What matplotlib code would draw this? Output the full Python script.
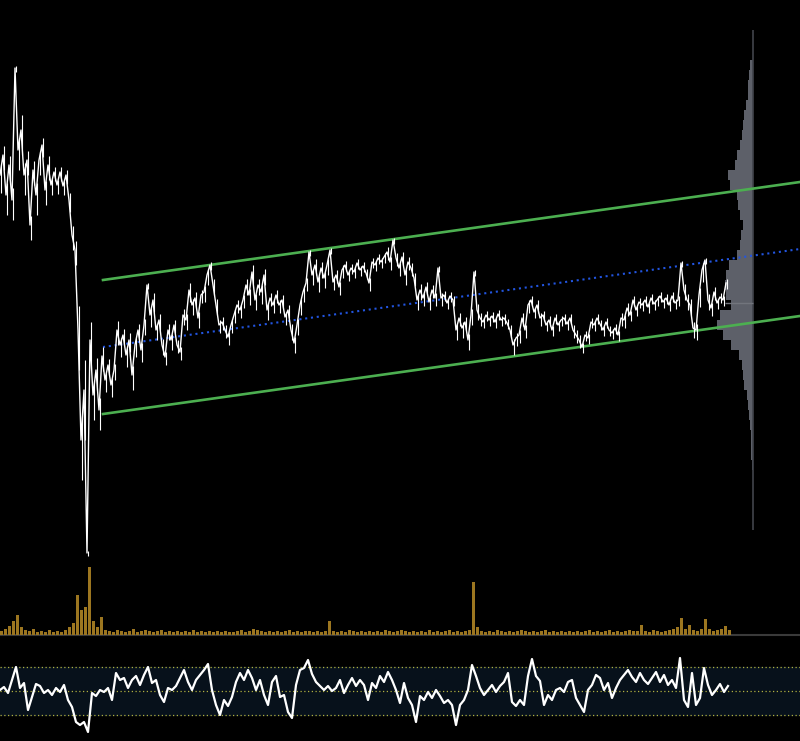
import numpy as np
import matplotlib
matplotlib.use("Agg")
import matplotlib.pyplot as plt

# ---------------- data ----------------
price_step = 3
price = [
    385, 405, 365, 395, 360, 492, 410, 430, 385, 400,
    335, 390, 365, 400, 415, 370, 395, 375, 388, 375,
    388, 374, 385, 360, 325, 310, 230, 120, 170, 7,
    220, 165, 190, 150, 204, 180, 195, 175, 190, 230,
    215, 225, 205, 220, 185, 215, 230, 210, 235, 275,
    245, 260, 230, 240, 215, 203, 230, 220, 235, 215,
    208, 245, 240, 270, 255, 262, 242, 265, 268, 285,
    295, 275, 255, 235, 238, 230, 223, 235, 245, 255,
    250, 260, 275, 265, 288, 260, 275, 268, 285, 250,
    262, 255, 265, 255, 260, 243, 250, 230, 217, 235,
    255, 268, 277, 308, 285, 295, 278, 292, 282, 295,
    310, 278, 285, 273, 290, 295, 285, 292, 288, 297,
    290, 294, 287, 277, 298, 295, 302, 298, 303, 308,
    298, 320, 302, 292, 303, 285, 298, 292, 282, 260,
    270, 262, 273, 258, 270, 262, 292, 262, 265, 257,
    264, 260, 230, 242, 232, 238, 220, 245, 288, 250,
    242, 238, 245, 240, 244, 238, 246, 240, 242, 237,
    230, 215, 222, 225, 242, 230, 255, 260, 248, 255,
    242, 245, 235, 240, 230, 242, 235, 240, 242, 236,
    242, 230, 225, 220, 213, 225, 222, 238, 235, 242,
    236, 230, 238, 230, 227, 232, 225, 242, 240, 252,
    245, 260, 250, 258, 255, 260, 253, 262, 256, 260,
    264, 258, 262, 255, 264, 257, 260, 297, 270, 260,
    255, 232, 230, 265, 290, 300, 260, 252, 268, 257,
    263, 260, 277,
]
# half of the intra-bar high-low range around each price point
price_range = [
    18, 15, 20, 15, 20, 4, 20, 25, 20, 15,
    15, 15, 20, 15, 12, 15, 15, 10, 9, 9,
    9, 9, 9, 12, 15, 15, 40, 40, 50, 3,
    30, 25, 20, 20, 15, 12, 10, 12, 10, 15,
    12, 10, 12, 12, 15, 12, 10, 12, 10, 4,
    12, 12, 10, 10, 10, 8, 10, 10, 8, 8,
    8, 10, 10, 12, 10, 10, 10, 8, 10, 10,
    5, 10, 10, 8, 8, 8, 8, 8, 8, 8,
    8, 8, 10, 10, 12, 10, 10, 12, 10, 10,
    8, 8, 8, 8, 8, 8, 8, 10, 10, 10,
    10, 10, 8, 4, 10, 10, 10, 10, 10, 10,
    4, 8, 8, 8, 8, 6, 6, 6, 6, 6,
    6, 6, 6, 8, 6, 6, 6, 6, 6, 8,
    8, 4, 8, 8, 8, 10, 8, 8, 8, 10,
    10, 8, 8, 8, 8, 8, 4, 8, 6, 6,
    6, 6, 10, 8, 10, 8, 10, 10, 4, 10,
    8, 6, 6, 6, 6, 6, 6, 6, 6, 6,
    8, 10, 8, 8, 8, 8, 8, 6, 6, 8,
    8, 6, 6, 6, 6, 6, 6, 6, 6, 6,
    6, 8, 8, 8, 6, 6, 6, 6, 6, 6,
    6, 6, 6, 6, 6, 6, 6, 8, 8, 8,
    6, 6, 6, 6, 6, 6, 6, 6, 6, 6,
    6, 6, 6, 6, 6, 6, 6, 4, 10, 10,
    10, 10, 10, 12, 12, 4, 10, 8, 8, 6,
    6, 6, 6,
]

# regression channel (start bar, end bar, mid value at start/end, half width)
channel_x = [103, 800]
channel_mid = [213, 311]
channel_half = 67

# volume per bar (step 4)
vol_step = 4
volume = [
    4, 6, 9, 14, 20, 8, 5, 4, 6, 3,
    4, 3, 5, 3, 4, 3, 5, 8, 12, 40,
    25, 28, 68, 14, 8, 18, 5, 4, 3, 5,
    4, 3, 4, 6, 3, 4, 5, 4, 3, 4,
    5, 3, 4, 3, 4, 3, 4, 3, 5, 3,
    4, 3, 4, 3, 4, 3, 4, 3, 3, 4,
    5, 3, 4, 6, 5, 4, 3, 4, 3, 4,
    3, 4, 5, 3, 4, 3, 4, 4, 3, 4,
    3, 4, 14, 4, 3, 4, 3, 5, 4, 3,
    4, 3, 4, 3, 4, 3, 5, 4, 3, 4,
    5, 4, 3, 4, 3, 4, 3, 5, 3, 4,
    3, 4, 5, 3, 4, 3, 4, 5, 53, 8,
    4, 3, 4, 3, 5, 4, 3, 4, 3, 4,
    5, 4, 3, 4, 3, 4, 5, 3, 4, 3,
    4, 3, 4, 3, 4, 3, 4, 5, 3, 4,
    3, 4, 5, 3, 4, 3, 4, 5, 4, 4,
    10, 4, 3, 5, 4, 3, 4, 5, 6, 8,
    17, 6, 10, 5, 4, 6, 16, 6, 4, 5,
    6, 9, 5,
]

# volume profile (price level bins of 10, widths)
profile_levels = list(range(95, 500, 10))
profile_vol = [
    1.5, 2, 2, 2.5, 3, 4, 5, 6, 9, 10,
    11, 14, 22, 30, 36, 33, 22, 27, 28, 27,
    24, 16, 13, 12, 10, 13, 15, 16, 23, 25,
    18, 16, 13, 11, 10, 9, 7, 5, 5, 4,
    3,
]
poc_level = 257
profile_range = [30, 530]
profile_anchor = 753

# oscillator (step 4)
osc_step = 4
osc = [
    1, 4, -2, 11, 24, 3, 8, -19, -6, 7,
    5, -2, 1, -4, 3, -1, 6, -9, -16, -31,
    -34, -31, -41, -2, -5, 1, -1, 3, -9, 18,
    11, 13, 3, 11, 15, 6, 16, 24, 8, 11,
    -4, -11, 3, 1, 5, 13, 21, 9, 1, 11,
    16, 21, 27, 1, -14, -24, -9, -15, -6, 9,
    18, 11, 21, 13, 1, 11, -4, -14, 9, 15,
    -6, -4, -21, -27, 6, 21, 23, 31, 17, 9,
    5, 1, 5, 0, 3, 11, -2, 6, 13, 5,
    11, 6, -9, 8, 3, 15, 9, 19, 11, 1,
    -12, 8, -7, -14, -31, -5, -9, -1, -7, 1,
    -5, -12, -9, -14, -34, -14, -9, 1, 26, 15,
    3, -4, 1, 6, -1, 5, 9, 18, -11, -15,
    -9, -14, 15, 32, 15, 10, -14, -4, -9, 1,
    3, -1, 9, 11, -7, -14, -21, 1, 6, 16,
    13, 1, 8, -7, 3, 11, 16, 21, 14, 9,
    18, 11, 7, 13, 19, 9, 16, 6, 11, 3,
    33, -9, -16, 18, -14, -7, 23, 6, -4, 1,
    7, -1, 5,
]
osc_levels = [-24, 0, 24]

# ---------------- figure ----------------
W, H = 800, 741
fig = plt.figure(figsize=(W / 100, H / 100), dpi=100, facecolor="black")

def px_axes(top, bottom):
    return fig.add_axes([0, (H - bottom) / H, 1, (bottom - top) / H])

ax = px_axes(0, 560)
axv = px_axes(560, 637)
axo = px_axes(640, 741)
for a in (ax, axv, axo):
    a.set_facecolor("black")
    a.set_xlim(0, 800)
    a.set_axis_off()

# price panel
px = np.arange(len(price)) * price_step
pr = np.array(price, dtype=float)
rg = np.array(price_range, dtype=float)
ax.set_ylim(0, 560)

# volume profile
pl = np.array(profile_levels)
pv = np.array(profile_vol)
ax.barh(pl, pv, height=10, left=profile_anchor - pv, color="#5d6069",
        edgecolor="none", zorder=1)
ax.vlines(profile_anchor, profile_range[0], profile_range[1], color="#41444b",
          lw=1.2, zorder=1)
ax.hlines(poc_level, profile_anchor - 28, profile_anchor, color="#72757d",
          lw=1.0, zorder=2)

ax.vlines(px + 1, pr - rg, pr + rg * 0.6, color="white", lw=0.8, zorder=4)
ax.plot(px, pr, color="white", lw=1.0, zorder=4)

cx = np.array(channel_x)
cm = np.array(channel_mid)
ax.plot(cx, cm + channel_half, color="#4caf50", lw=1.9, zorder=3)
ax.plot(cx, cm - channel_half, color="#4caf50", lw=1.9, zorder=3)
ax.plot(cx, cm, color="#2255e0", lw=1.5, ls=(0, (1, 1.8)), zorder=3)

# volume panel
vx = np.arange(len(volume)) * vol_step
axv.set_ylim(-2, 75)
axv.axhline(0, color="#3a3a3a", lw=1.5, zorder=1)
axv.bar(vx, volume, width=2.6, align="edge", color="#9c7620",
        edgecolor="none", zorder=2)

# oscillator panel
ox = np.arange(len(osc)) * osc_step
axo.set_ylim(-50, 51)
axo.axhspan(osc_levels[0], osc_levels[-1], color="#07111b", zorder=0)
for lv in osc_levels:
    axo.axhline(lv, color="#b0b040", lw=0.9, ls=(0, (1, 2)), zorder=1)
axo.plot(ox, osc, color="white", lw=1.6, zorder=3)

fig.savefig("out.png", dpi=100, facecolor="black")
